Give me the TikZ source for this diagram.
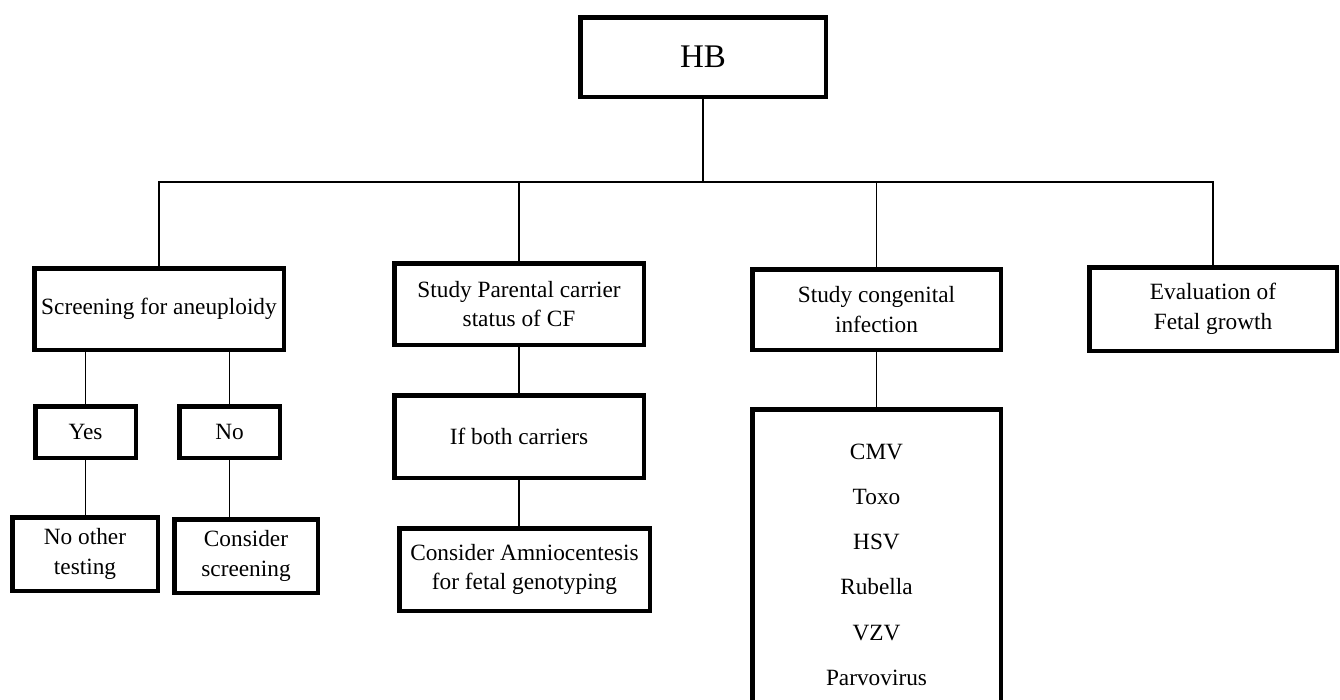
\documentclass[tikz,border=0pt]{standalone}
\usepackage{fontspec}
\setmainfont{Liberation Serif}
\newcommand\boxfont{\fontsize{23.3}{29.5}\selectfont}
\newcommand\bigfont{\fontsize{33}{40}\selectfont}
\tikzset{
  box/.style={draw=black, line width=4.5pt, inner sep=0pt, align=center, font=\boxfont, fill=white},
  conn/.style={draw=black, line width=1.3pt},
  item/.style={inner sep=0pt, font=\boxfont}
}
\newcommand\bx[6]{\node[box, minimum width={#4pt-4.5pt}, minimum height={#5pt-4.5pt}] (#1) at (#2,#3) {#6};}
\begin{document}
\begin{tikzpicture}[x=1pt, y=-1pt]
\clip (0,0) rectangle (1340,699);
\fill[white] (0,0) rectangle (1340,699);
% boxes
\bx{hb}{703}{57}{250}{84}{\bigfont HB}
\bx{b1}{159}{309}{254}{86}{Screening for aneuploidy}
\bx{b2}{519}{304}{254}{86}{Study Parental carrier\\status of CF}
\bx{b3}{876.5}{309.5}{253}{85}{Study congenital\\infection}
\bx{b4}{1213}{309}{252}{88}{Evaluation of\\Fetal growth}
\bx{yes}{85.5}{432}{105}{56}{Yes}
\bx{no}{229.5}{432}{105}{56}{No}
\bx{noother}{85}{554}{150}{78}{No other\\testing}
\bx{cons}{246}{556}{148}{78}{Consider\\screening}
\bx{ifboth}{519}{436.5}{254}{87}{If both carriers}
\bx{amnio}{524.5}{569.5}{255}{87}{Consider Amniocentesis\\for fetal genotyping}
\bx{inf}{876.5}{560}{253}{306}{}
% list items
\node[item] (cmv) at (876.5,452) {CMV};
\node[item] (toxo) at (876.5,497) {Toxo};
\node[item] (hsv) at (876.5,542) {HSV};
\node[item] (rub) at (876.5,587) {Rubella};
\node[item] (vzv) at (876.5,633) {VZV};
\node[item] (parvo) at (876.5,678) {Parvovirus};
% bus
\coordinate (bus) at (0,182);
\draw[conn] (hb.south) -- (hb.south |- bus);
\draw[conn] (b1.north) -- (b1.north |- bus) -- (b4.north |- bus) -- (b4.north);
\draw[conn] (b2.north) -- (b2.north |- bus);
\draw[conn] (b3.north) -- (b3.north |- bus);
% left branch
\draw[conn] (yes.north |- b1.south) -- (yes.north);
\draw[conn] (no.north |- b1.south) -- (no.north);
\draw[conn] (yes.south) -- (yes.south |- noother.north);
\draw[conn] (no.south) -- (no.south |- cons.north);
% middle
\draw[conn] (b2.south) -- (b2.south |- ifboth.north);
\draw[conn] (ifboth.south) -- (ifboth.south |- amnio.north);
% infection
\draw[conn] (b3.south) -- (b3.south |- inf.north);
\end{tikzpicture}
\end{document}
